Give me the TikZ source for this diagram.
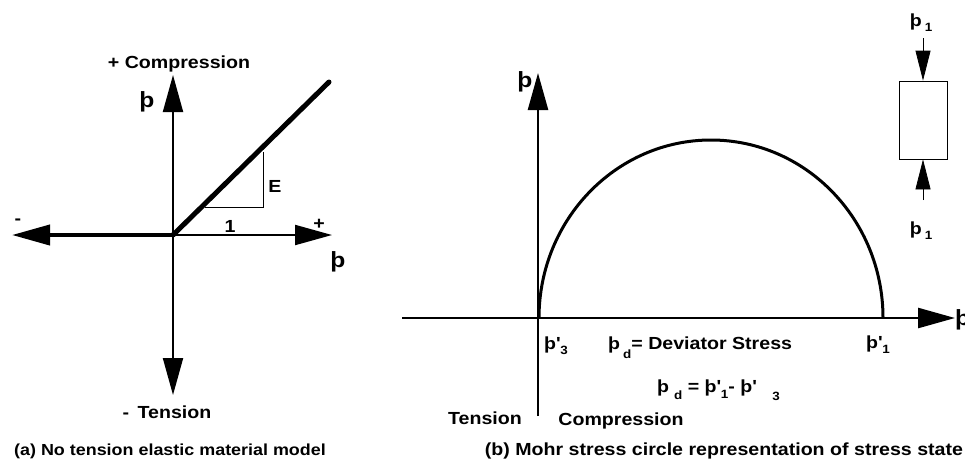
\documentclass[tikz,border=0pt]{standalone}
\usepackage{fontspec}
\setmainfont{Liberation Sans}[FakeStretch=1.12]
\usetikzlibrary{arrows.meta}
\newcommand\lsub[2][6pt]{\raisebox{-#1}{\fontsize{12}{12}\selectfont #2}}
\newcommand\pr{\textquotesingle}
\begin{document}
\begin{tikzpicture}[x=1pt,y=-1pt,
  font=\fontsize{17.5}{20}\selectfont\bfseries,
  txt/.style={inner sep=0pt},
  big/.style={inner sep=0pt,font=\fontsize{22}{24}\selectfont\bfseries},
  bigtip/.style={-{Triangle[length=37pt,width=20pt]}},
  smalltip/.style={-{Triangle[length=30pt,width=15pt]}}]
\useasboundingbox (0,0) rectangle (965,475);

% ---------- (a) ----------
\coordinate (O1) at (173,235);
\coordinate (Vt) at (173,75);
\coordinate (Vb) at (173,395);
\coordinate (Hl) at (12,235);
\coordinate (Hr) at (332,235);
\coordinate (D) at (329,82);
\coordinate (T1) at (205,207);
\coordinate (T2) at (263,207);
\coordinate (T3) at (263,152);
\draw[line width=2pt, bigtip] (O1) -- (Vt);
\draw[line width=2pt, bigtip] (O1) -- (Vb);
\draw[line width=4pt, -{Triangle[length=38pt,width=20pt]}] (O1) -- (Hl);
\draw[line width=2pt, bigtip] (O1) -- (Hr);
\draw[line width=5pt, line cap=round] (O1) -- (D);
\draw[line width=0.8pt] (T1) -- (T2) -- (T3);

\node[txt] (comp) at (179,64) {+ Compression};
\node[big] (sa) at (147,102) {þ};
\node[big] (ea) at (338,262) {þ};
\node[txt] (E) at (275,186) {E};
\node[txt] (one) at (230,226) {1};
\node[txt] (minus) at (18,222) {-};
\node[txt] (plus) at (319,224) {+};
\node[txt] (ten) at (167,412) {-\hspace{3pt} Tension};
\node[txt, font=\fontsize{16}{18}\selectfont\bfseries] (capa) at (170,451) {(a) No tension elastic material model};

% ---------- (b) ----------
\coordinate (O2) at (538,318);
\coordinate (Ax0) at (402,318);
\coordinate (Axr) at (955,318);
\coordinate (Vt2) at (538,73);
\coordinate (Vb2) at (538,416);
\coordinate (C3) at (539,318);
\draw[line width=2.5pt, bigtip] (Ax0) -- (Axr);
\draw[line width=2.5pt, bigtip] (Vb2) -- (Vt2);
\draw[line width=3pt] (C3) arc[start angle=180, end angle=360, x radius=172, y radius=178];

\node[big] (tau) at (525,82) {þ};
\node[big, anchor=west] (sig) at (955,320) {þ};
\node[txt, anchor=west] (s3) at (544,346) {þ\pr\lsub[5pt]{3}};
\node[txt, anchor=west] (s1) at (866,345) {þ\pr\lsub[5pt]{1}};
\node[txt, anchor=west] (dev) at (608,348) {þ\hspace{3pt}\lsub[9pt]{d}= Deviator Stress};
\node[txt, anchor=west] (eq) at (657,390) {þ\hspace{5pt}\lsub[7pt]{d} = þ\pr\lsub[6pt]{1}- þ\pr\hspace{16pt}\lsub[8pt]{3}};
\node[txt] (tens) at (485,418) {Tension};
\node[txt] (compb) at (621,421) {Compression};
\node[txt] (capb) at (724,451) {(b) Mohr stress circle representation of stress state};

% stress element
\node[draw, line width=0.8pt, minimum width=48pt, minimum height=78pt, inner sep=0pt] (box) at (923,120) {};
\coordinate (ta) at (923,38);
\coordinate (ba) at (923,200);
\draw[line width=0.8pt, smalltip] (ta) -- (box.north);
\draw[line width=0.8pt, smalltip] (ba) -- (box.south);
\node[txt] (s1t) at (921,23) {þ\hspace{3pt}\lsub[5pt]{1}};
\node[txt] (s1b) at (921,231) {þ\hspace{3pt}\lsub[5pt]{1}};
\end{tikzpicture}
\end{document}
